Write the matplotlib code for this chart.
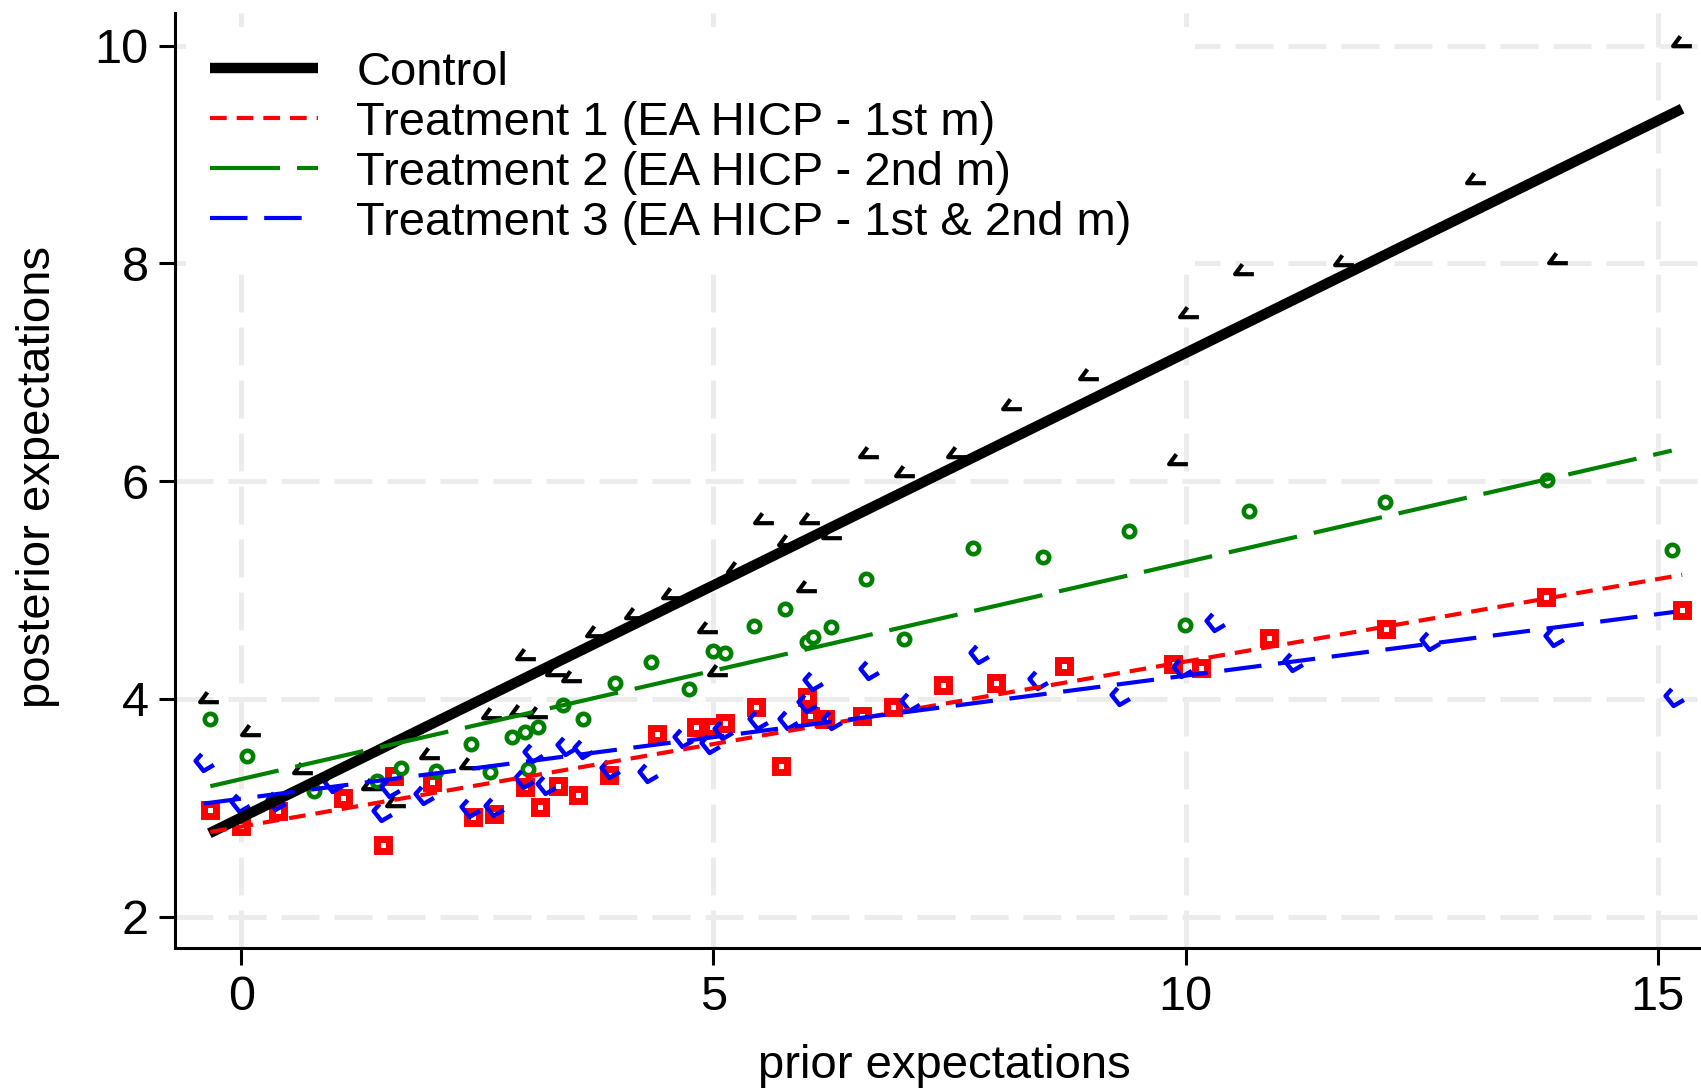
import numpy as np
import matplotlib
matplotlib.use("Agg")
import matplotlib.pyplot as plt
from matplotlib.path import Path

plt.rcParams['font.family'] = ['Liberation Sans', 'DejaVu Sans']

# binned means
ctrl_x = [-0.34, 0.10, 0.65, 1.38, 1.64, 2.00, 2.42, 2.65, 2.95, 3.01, 3.14, 3.33,
          3.50, 3.76, 4.17, 4.56, 4.94, 5.05, 5.25, 5.53, 5.79, 5.99, 6.02, 6.25,
          6.65, 7.03, 7.58, 8.16, 8.98, 9.92, 10.04, 10.62, 11.68, 13.08, 13.95, 15.26]
ctrl_y = [4.02, 3.71, 3.37, 3.22, 3.06, 3.50, 3.41, 3.87, 3.90, 4.41, 3.88, 4.27,
          4.21, 4.62, 4.79, 4.97, 4.66, 4.27, 5.21, 5.66, 5.46, 5.04, 5.66, 5.52,
          6.27, 6.09, 6.27, 6.71, 6.98, 6.20, 7.55, 7.95, 8.03, 8.78, 8.05, 10.04]

t1_x = [-0.33, 0.00, 0.39, 1.08, 1.50, 1.62, 2.02, 2.45, 2.68, 3.00, 3.16, 3.35,
        3.56, 3.89, 4.40, 4.81, 4.98, 5.12, 5.45, 5.72, 5.99, 6.02, 6.18, 6.57,
        6.90, 7.43, 7.99, 8.71, 9.87, 10.16, 10.88, 12.12, 13.82, 15.26]
t1_y = [2.98, 2.83, 2.97, 3.09, 2.66, 3.29, 3.24, 2.92, 2.94, 3.19, 3.01, 3.20,
        3.12, 3.30, 3.68, 3.74, 3.74, 3.78, 3.93, 3.38, 4.02, 3.84, 3.82, 3.84,
        3.93, 4.13, 4.15, 4.30, 4.32, 4.28, 4.56, 4.64, 4.94, 4.82]

t2_x = [-0.33, 0.055, 0.77, 1.44, 1.69, 2.06, 2.43, 2.63, 2.87, 3.00, 3.03, 3.14,
        3.41, 3.62, 3.96, 4.34, 4.74, 4.99, 5.12, 5.43, 5.76, 5.99, 6.05, 6.24,
        6.62, 7.02, 7.75, 8.49, 9.40, 9.99, 10.67, 12.11, 13.83, 15.15]
t2_y = [3.82, 3.48, 3.15, 3.25, 3.37, 3.34, 3.59, 3.33, 3.65, 3.70, 3.36, 3.74,
        3.94, 3.82, 4.15, 4.34, 4.09, 4.44, 4.42, 4.67, 4.83, 4.52, 4.57, 4.66,
        5.10, 4.55, 5.39, 5.30, 5.54, 4.68, 5.73, 5.81, 6.01, 5.37]

t3_x = [-0.40, -0.02, 0.37, 0.97, 1.49, 1.57, 1.93, 2.42, 2.67, 2.99, 3.09, 3.23,
        3.44, 3.62, 3.90, 4.31, 4.68, 4.96, 5.10, 5.47, 5.79, 5.99, 6.05, 6.25,
        6.65, 7.08, 7.81, 8.44, 9.31, 9.96, 10.31, 11.14, 12.59, 13.90, 15.17]
t3_y = [3.42, 3.04, 3.06, 3.23, 2.96, 3.18, 3.12, 3.00, 3.01, 3.26, 3.50, 3.21,
        3.57, 3.54, 3.36, 3.32, 3.64, 3.59, 3.71, 3.81, 3.81, 3.96, 4.16, 3.81,
        4.27, 3.97, 4.41, 4.17, 4.03, 4.28, 4.71, 4.34, 4.53, 4.57, 4.02]

# linear fits (intercept, slope)
fit_const = [2.911, 2.828, 3.264, 3.084]
fit_slope = [0.4266, 0.1515, 0.1991, 0.1130]

labels = ['Control', 'Treatment 1 (EA HICP - 1st m)', 'Treatment 2 (EA HICP - 2nd m)',
          'Treatment 3 (EA HICP - 1st & 2nd m)']

# marker shapes
ctrl_marker = Path([(-0.2, 0.5), (-0.9, -0.45), (0.9, -0.45)],
                   [Path.MOVETO, Path.LINETO, Path.LINETO])
t3_marker = Path([(-0.3, 0.9), (-0.95, 0.17), (-0.1, -0.9), (1.0, -0.26)],
                 [Path.MOVETO, Path.LINETO, Path.LINETO, Path.LINETO])

fig = plt.figure(figsize=(17.01, 10.91), dpi=100)
ax = fig.add_axes([175 / 1701, 1 - 947.7 / 1091, 1 - 175 / 1701, (947.7 - 13) / 1091])

ax.set_xlim(-0.704, 15.46)
ax.set_ylim(1.715, 10.30)
ax.set_xticks([0, 5, 10, 15])
ax.set_yticks([2, 4, 6, 8, 10])
ax.set_axisbelow(True)
ax.grid(True, color='#ececec', linewidth=3.6, linestyle=(0, (7.6, 3.0)))

# scatter of bins
ax.plot(ctrl_x, ctrl_y, linestyle='none', marker=ctrl_marker, ms=13.5,
        mfc='none', mec='black', mew=3)
ax.plot(t1_x, t1_y, linestyle='none', marker='s', ms=8, mfc='white',
        mec='red', mew=5)
ax.plot(t2_x, t2_y, linestyle='none', marker='o', ms=8.2, mfc='white',
        mec='green', mew=3.3)
ax.plot(t3_x, t3_y, linestyle='none', marker=t3_marker, ms=13.5,
        mfc='none', mec='blue', mew=3.2)

# fitted lines
styles = [dict(color='black', lw=7.5, linestyle='-'),
          dict(color='red', lw=3, linestyle=(0, (4, 2.4))),
          dict(color='green', lw=3, linestyle=(0, (16.8, 4.1))),
          dict(color='blue', lw=3, linestyle=(0, (9.0, 4.0)))]
for xs, a, b, st, lab in zip([ctrl_x, t1_x, t2_x, t3_x], fit_const, fit_slope, styles, labels):
    xx = np.array([min(xs), max(xs)])
    ax.plot(xx, a + b * xx, label=lab, solid_capstyle='butt', dash_capstyle='butt', **st)

for s in ['top', 'right']:
    ax.spines[s].set_visible(False)
for s in ['left', 'bottom']:
    ax.spines[s].set_linewidth(2.2)

ax.tick_params(axis='x', length=12, width=2.2, labelsize=35, pad=8)
ax.tick_params(axis='y', length=11.5, width=2.2, labelsize=35, pad=7.5)

ax.set_xlabel('prior expectations', fontsize=34)
ax.set_ylabel('posterior expectations', fontsize=34)
ax.xaxis.set_label_coords(0.504, -0.127)
ax.xaxis.label.set_verticalalignment('center')
ax.yaxis.set_label_coords(-0.0898, 0.504)
ax.yaxis.label.set_verticalalignment('center')

leg = ax.legend(loc='upper left',
                bbox_to_anchor=(186 / 1701, 1 - 262 / 1091, (1195 - 186) / 1701, (262 - 27) / 1091),
                bbox_transform=fig.transFigure, mode='expand', fontsize=33.9,
                frameon=True, facecolor='white', edgecolor='none', framealpha=1,
                fancybox=False, handlelength=2.3, handletextpad=0.82,
                labelspacing=0.13, borderpad=0.5, borderaxespad=0)

fig.savefig('out.png', dpi=100)
